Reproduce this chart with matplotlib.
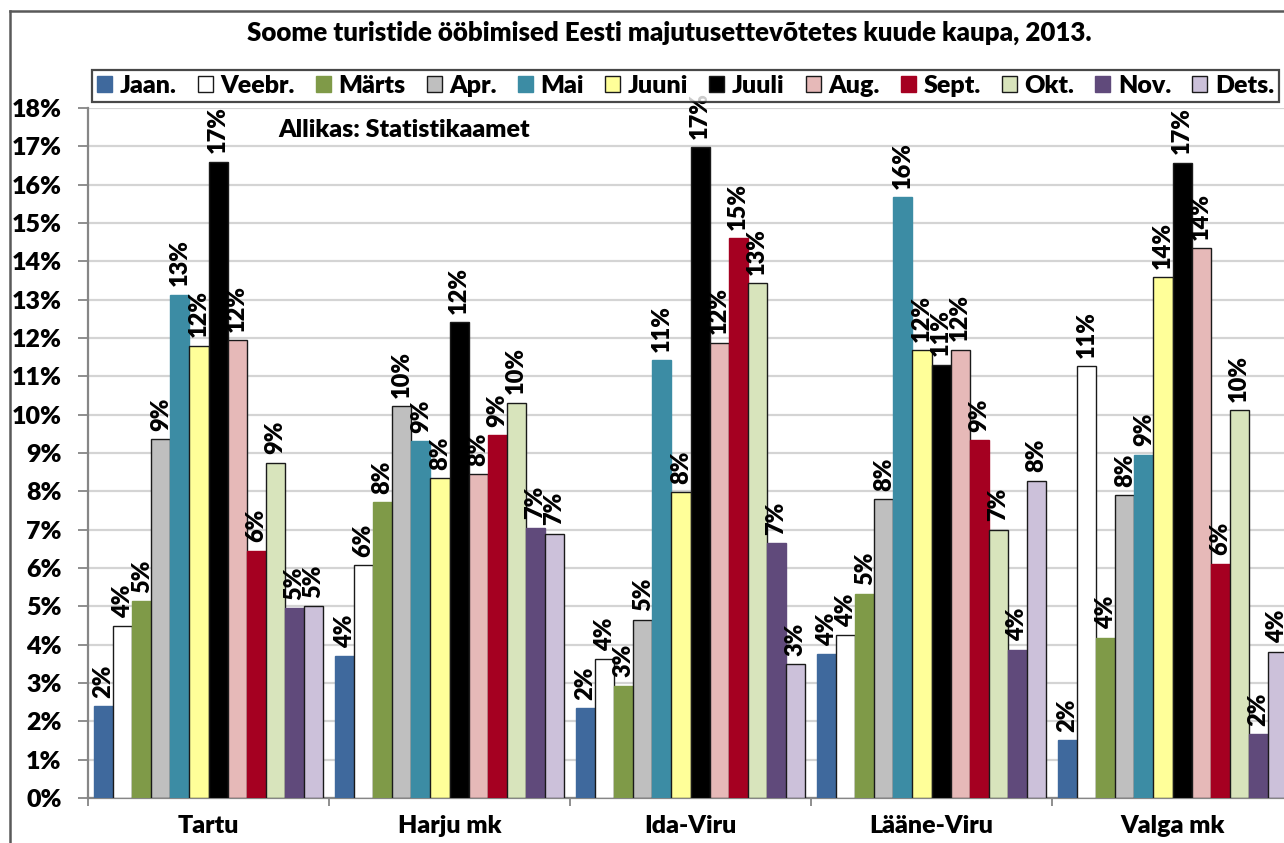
import matplotlib
matplotlib.use("Agg")
import matplotlib.pyplot as plt
import numpy as np
from matplotlib.lines import Line2D
from matplotlib.ticker import FixedLocator

plt.rcParams['font.family'] = ['Lato', 'DejaVu Sans']
plt.rcParams['font.weight'] = 'bold'

regions = ['Tartu', 'Harju mk', 'Ida-Viru', 'Lääne-Viru', 'Valga mk']
months = ['Jaan.', 'Veebr.', 'Märts', 'Apr.', 'Mai', 'Juuni',
          'Juuli', 'Aug.', 'Sept.', 'Okt.', 'Nov.', 'Dets.']

# share of the region's yearly stays, % (one value per region)
jaan = [2.40, 3.70, 2.35, 3.76, 1.51]
veebr = [4.48, 6.07, 3.63, 4.25, 11.26]
marts = [5.13, 7.72, 2.93, 5.33, 4.18]
apr = [9.36, 10.23, 4.65, 7.79, 7.90]
mai = [13.13, 9.30, 11.42, 15.67, 8.96]
juuni = [11.80, 8.34, 7.98, 11.69, 13.58]
juuli = [16.60, 12.42, 16.97, 11.30, 16.57]
aug = [11.94, 8.44, 11.88, 11.70, 14.35]
sept = [6.45, 9.47, 14.60, 9.34, 6.11]
okt = [8.75, 10.31, 13.43, 7.00, 10.12]
nov = [4.95, 7.05, 6.64, 3.87, 1.66]
dets = [5.01, 6.90, 3.49, 8.28, 3.82]
series = [jaan, veebr, marts, apr, mai, juuni, juuli, aug, sept, okt, nov, dets]

colors = ['#3F699D', '#FFFFFF', '#7F9A48', '#BFBFBF', '#3C8CA4', '#FFFF99',
          '#000000', '#E6B9B8', '#A50021', '#D8E4BC', '#604A7B', '#CCC1DA']
outlined = [False, True, False, True, False, True, True, True, False, True, False, True]

W, H = 1284, 843
fig = plt.figure(figsize=(W / 100, H / 100), dpi=100)
ax = fig.add_axes([88 / W, 45 / H, 1 - 88 / W, (798 - 108) / H])

x = np.arange(len(regions))
group_w = 0.95
bw = group_w / len(series)
for j, (vals, c, ol) in enumerate(zip(series, colors, outlined)):
    pos = x - group_w / 2 + (j + 0.5) * bw
    ax.bar(pos, vals, bw, color=c, label=months[j],
           edgecolor='#1a1a1a' if ol else c, linewidth=1.0, zorder=3)
    for p, v in zip(pos, vals):
        ax.annotate(f"{round(v)}%", (p, v), xytext=(0, 6), textcoords='offset points',
                    rotation=90, ha='center', va='bottom', fontsize=17,
                    fontweight='heavy', zorder=4, annotation_clip=False)

ax.set_ylim(0, 18)
ax.set_xlim(-0.5, -0.5 + (W - 88) / 241)
ax.set_yticks(np.arange(0, 19))
ax.set_yticklabels([f"{i}%" for i in range(19)], fontsize=18, fontweight='heavy')
ax.yaxis.grid(True, color='#D4D4D4', linewidth=1.6, zorder=0)
ax.set_axisbelow(True)
ax.tick_params(axis='y', length=7, width=1.3, color='#868686', pad=12)

ax.set_xticks(x)
ax.set_xticklabels(regions, fontsize=18, fontweight='heavy')
ax.tick_params(axis='x', which='major', length=0, pad=12)
ax.xaxis.set_minor_locator(FixedLocator(np.arange(-0.5, 5, 1)))
ax.tick_params(axis='x', which='minor', length=6, width=1.3, color='#868686')

for s in ('top', 'right'):
    ax.spines[s].set_visible(False)
for s in ('left', 'bottom'):
    ax.spines[s].set_color('#868686')
    ax.spines[s].set_linewidth(1.6)

ax.text(278 / W, 1 - 130 / H, 'Allikas: Statistikaamet', transform=fig.transFigure,
        fontsize=18, fontweight='heavy', va='center', ha='left')

fig.suptitle('Soome turistide ööbimised Eesti majutusettevõtetes kuude kaupa, 2013.',
             x=669 / W, y=1 - 33 / H, va='center', fontsize=18.6, fontweight='heavy')

leg = fig.legend(loc='upper left', bbox_to_anchor=(92 / W, 1 - 70 / H), ncol=12,
                 prop={'size': 18, 'weight': 'heavy'}, frameon=True, fancybox=False,
                 borderaxespad=0, handlelength=0.6, handleheight=0.6, handletextpad=0.3,
                 columnspacing=0.85, borderpad=0.2)
leg.get_frame().set_edgecolor('#1a1a1a')
leg.get_frame().set_linewidth(1.6)

# outer chart frame
fig.add_artist(Line2D([10 / W, 10 / W], [0, 1 - 11 / H], color='#595959', lw=1.8))
fig.add_artist(Line2D([10 / W, 1], [1 - 11 / H, 1 - 11 / H], color='#595959', lw=1.8))

fig.savefig('out.png', dpi=100)
